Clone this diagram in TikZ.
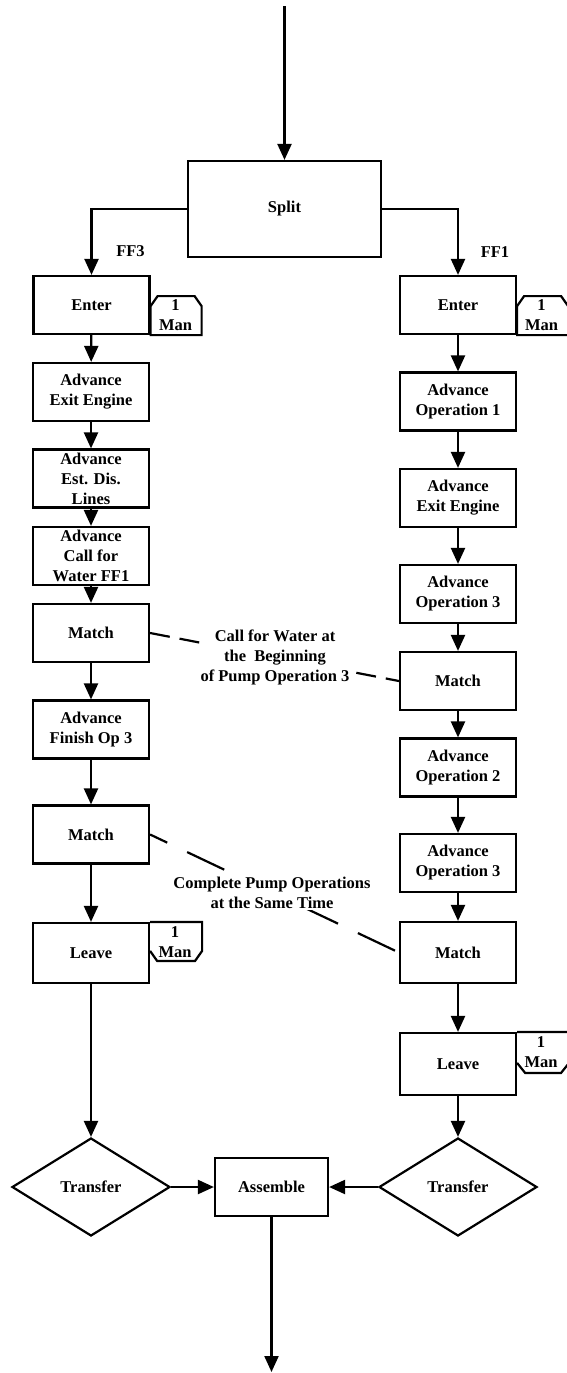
\documentclass[tikz,border=0pt]{standalone}
\usepackage{fontspec}
\setmainfont{Liberation Serif}
\usetikzlibrary{arrows.meta,shapes.geometric}
\begin{document}
\begin{tikzpicture}[x=1pt,y=-1pt,line width=2.2pt,
  font=\fontsize{16.5}{20}\selectfont\bfseries,
  box/.style={draw, rectangle, minimum width=116pt, minimum height=58pt, inner sep=0pt, align=center},
  arr/.style={-{Triangle[width=14pt,length=16pt]}},
  tabtext/.style={inner sep=0pt, align=center},
  lbl/.style={fill=white, inner sep=1pt, align=center},
  dec/.style={diamond, draw, minimum width=158pt, minimum height=98pt, inner sep=0pt, aspect=1.6}
]
\useasboundingbox (0,0) rectangle (566,1373);
% top
\node[box, minimum width=193pt, minimum height=96pt] (split) at (284.5,209) {Split};
% left column
\node[box] (e1) at (91.5,305) {Enter};
\node[box] (a1) at (91,392) {Advance\\Exit Engine};
\node[box] (a2) at (91,478.5) {Advance\\Est. Dis.\\Lines};
\node[box] (a3) at (91,556) {Advance\\Call for\\Water FF1};
\node[box] (m1) at (91,633) {Match};
\node[box] (a4) at (91,729.5) {Advance\\Finish Op 3};
\node[box] (m2) at (91,834.5) {Match};
\node[box, minimum height=60pt] (lv1) at (91,953) {Leave};
\node[dec] (t1) at (91,1187) {Transfer};
% right column
\node[box] (re1) at (458,305) {Enter};
\node[box] (ra1) at (458,401.5) {Advance\\Operation 1};
\node[box] (ra2) at (458,498) {Advance\\Exit Engine};
\node[box] (ra3) at (458,594) {Advance\\Operation 3};
\node[box] (rm1) at (458,681) {Match};
\node[box] (ra4) at (458,767.5) {Advance\\Operation 2};
\node[box] (ra5) at (458,863) {Advance\\Operation 3};
\node[box, minimum height=61pt] (rm2) at (458,952.5) {Match};
\node[box, minimum height=62pt] (rlv) at (458,1064) {Leave};
\node[dec] (t2) at (458,1187) {Transfer};
\node[box, minimum width=113pt] (asm) at (271.5,1187) {Assemble};
% resource tabs
\draw (e1.south east) -- ++(0,-29) -- ++(7,-10) -- ++(37,0) -- ++(7,10) -- ++(0,29) -- cycle;
\node[tabtext] (tab1) at (175.5,315) {1\\Man};
\draw (re1.south east) -- ++(0,-29) -- ++(7,-10) -- ++(37,0) -- ++(7,10) -- ++(0,29) -- cycle;
\node[tabtext] (tab2) at (541.5,315) {1\\Man};
\draw (lv1.north east) -- ++(52,0) -- ++(0,29) -- ++(-7,10) -- ++(-38,0) -- ++(-7,-10);
\node[tabtext] (tab3) at (175,942) {1\\Man};
\draw (rlv.north east) -- ++(52,0) -- ++(0,31) -- ++(-8,10) -- ++(-36,0) -- ++(-8,-10);
\node[tabtext] (tab4) at (541,1052) {1\\Man};
% labels
\node (ff3) at (130.5,251) {FF3};
\node (ff1) at (495,252) {FF1};
% connectors
\coordinate (topin) at (284.5,6);
\coordinate (botout) at (271.5,1372);
\draw[arr] (topin) -- (split);
\draw[arr] (split.west) -| (e1.north);
\draw[arr] (split.east) -| (re1.north);
\draw[arr] (e1) -- (a1);
\draw[arr] (a1) -- (a2);
\draw[arr] (a2) -- (a3);
\draw[arr] (a3) -- (m1);
\draw[arr] (m1) -- (a4);
\draw[arr] (a4) -- (m2);
\draw[arr] (m2) -- (lv1);
\draw[arr] (lv1) -- (t1);
\draw[arr] (re1) -- (ra1);
\draw[arr] (ra1) -- (ra2);
\draw[arr] (ra2) -- (ra3);
\draw[arr] (ra3) -- (rm1);
\draw[arr] (rm1) -- (ra4);
\draw[arr] (ra4) -- (ra5);
\draw[arr] (ra5) -- (rm2);
\draw[arr] (rm2) -- (rlv);
\draw[arr] (rlv) -- (t2);
\draw[arr] (t1.east) -- (asm.west);
\draw[arr] (t2.west) -- (asm.east);
\draw[arr] (asm) -- (botout);
% dashed links
\draw[dash pattern=on 20pt off 10pt] (m1.east) -- (rm1.west);
\draw[dash pattern=on 41pt off 22pt, dash phase=22pt] (m2.east) -- (rm2.west);
\node[lbl] (c1) at (275,657) {Call for Water at\\the\ \ Beginning\\of Pump Operation 3};
\node[lbl] (c2) at (272,893) {Complete Pump Operations\\at the Same Time};
\end{tikzpicture}
\end{document}
